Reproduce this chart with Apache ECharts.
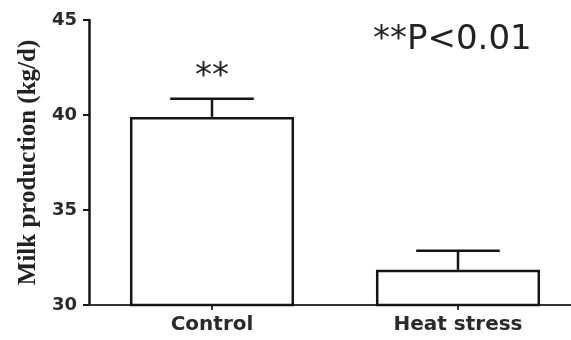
<!DOCTYPE html>
<html>
<head>
<meta charset="utf-8">
<script src="https://cdn.jsdelivr.net/npm/echarts@6/dist/echarts.min.js"></script>
<style>
  html, body { margin: 0; padding: 0; background: #ffffff; }
  #chart { width: 571px; height: 340px; }
</style>
</head>
<body>
<div id="chart"></div>
<script>
// ---- data ----
const categories = ['Control', 'Heat stress'];
const meanValues = [39.9, 31.85];
const errorValues = [0.95, 1.0];
const sigLabels = ['**', ''];
const yMin = 30;
const yMax = 45;
const yStep = 5;
const yAxisTitle = 'Milk production (kg/d)';
const noteText = '**P<0.01';

const chart = echarts.init(document.getElementById('chart'), null, { renderer: 'canvas' });

const ink = '#151515';

const option = {
  backgroundColor: '#ffffff',
  animation: false,
  grid: { left: 89, top: 20, width: 492, height: 285, outerBoundsMode: 'none', containLabel: false },
  xAxis: {
    type: 'category',
    data: categories,
    axisLine: { show: true, lineStyle: { color: '#333', width: 2 } },
    axisTick: { show: true, alignWithLabel: true, length: 5, lineStyle: { color: '#333', width: 2 } },
    axisLabel: {
      margin: 10,
      color: '#2a2a2a',
      fontFamily: '"DejaVu Sans", sans-serif',
      fontWeight: 'bold',
      fontSize: 20
    },
    splitLine: { show: false }
  },
  yAxis: {
    type: 'value',
    min: yMin,
    max: yMax,
    interval: yStep,
    name: yAxisTitle,
    nameLocation: 'middle',
    nameRotate: 90,
    nameGap: 47,
    nameTextStyle: {
      fontFamily: '"Liberation Serif", "DejaVu Serif", serif',
      fontWeight: 'bold',
      fontSize: 25,
      color: '#222'
    },
    axisLine: { show: true, lineStyle: { color: ink, width: 2.5 } },
    axisTick: { show: true, length: 6, lineStyle: { color: ink, width: 2 } },
    axisLabel: {
      margin: 12,
      color: '#2a2a2a',
      fontFamily: '"DejaVu Sans", sans-serif',
      fontWeight: 'bold',
      fontSize: 18
    },
    splitLine: { show: false }
  },
  graphic: [
    {
      type: 'text',
      left: 373,
      top: 23,
      style: {
        text: noteText,
        fontFamily: '"DejaVu Sans", sans-serif',
        fontSize: 34,
        fill: '#222'
      }
    }
  ],
  series: [
    {
      type: 'bar',
      data: meanValues,
      barWidth: '66.7%',
      itemStyle: { color: '#ffffff', borderColor: ink, borderWidth: 2.5 },
      z: 3
    },
    {
      type: 'custom',
      z: 4,
      data: categories.map((c, i) => [i, meanValues[i], errorValues[i]]),
      renderItem: function (params, api) {
        const xi = api.value(0);
        const m = api.value(1);
        const e = api.value(2);
        const base = api.coord([xi, m]);
        const top = api.coord([xi, m + e]);
        const half = api.size([1, 0])[0] * 0.17;
        const children = [
          { type: 'line', shape: { x1: base[0], y1: base[1], x2: top[0], y2: top[1] },
            style: { stroke: ink, lineWidth: 2.5 } },
          { type: 'line', shape: { x1: top[0] - half, y1: top[1], x2: top[0] + half, y2: top[1] },
            style: { stroke: ink, lineWidth: 2.5 } }
        ];
        const lab = sigLabels[params.dataIndex];
        if (lab) {
          children.push({
            type: 'text',
            x: top[0],
            y: top[1] - 22,
            style: {
              text: lab,
              fontFamily: '"DejaVu Sans", sans-serif',
              fontSize: 34,
              fill: '#222',
              align: 'center',
              verticalAlign: 'middle'
            }
          });
        }
        return { type: 'group', children: children };
      }
    }
  ]
};

chart.setOption(option);
</script>
</body>
</html>
